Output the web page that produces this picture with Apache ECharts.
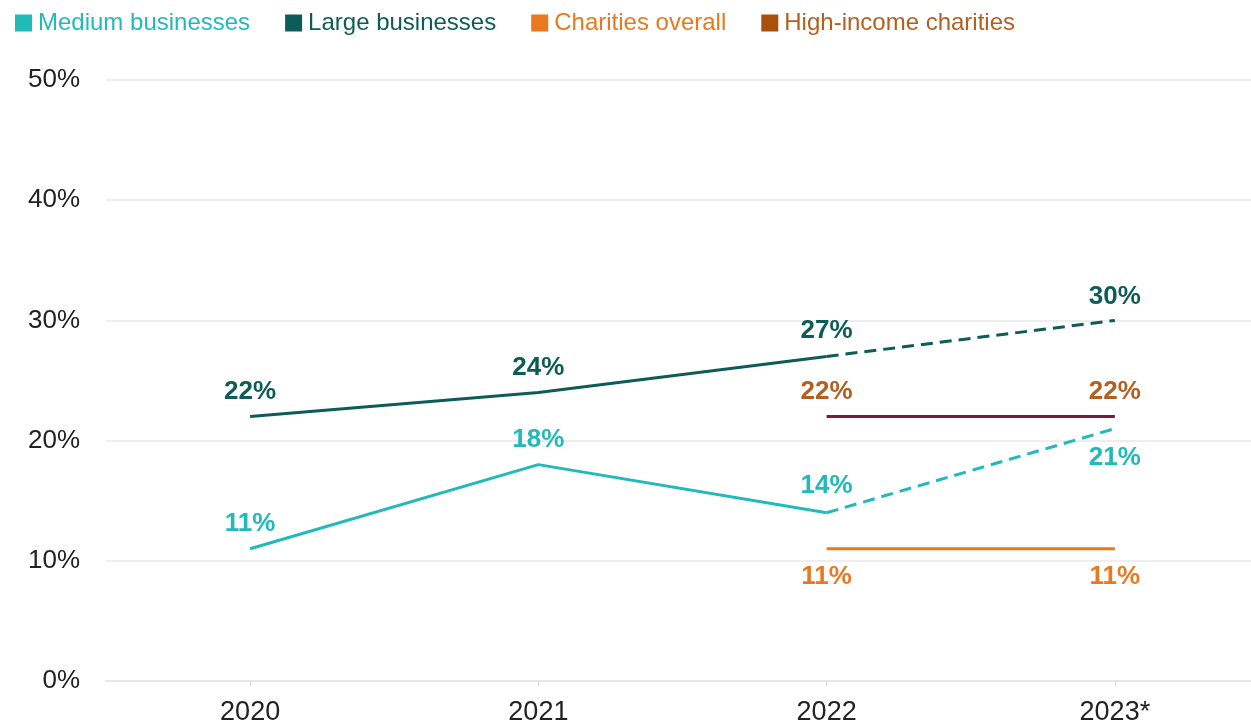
<!DOCTYPE html>
<html>
<head>
<meta charset="utf-8">
<script src="https://cdn.jsdelivr.net/npm/echarts@6/dist/echarts.min.js"></script>
<style>
  html, body { margin: 0; padding: 0; background: #fff; }
  #chart { width: 1251px; height: 727px; }
</style>
</head>
<body>
<div id="chart"></div>
<script>
// Survey years and shares (%)
const years = ['2020', '2021', '2022', '2023*'];
const mediumBusinesses = [11, 18, 14, 21];
const largeBusinesses = [22, 24, 27, 30];
const charitiesOverall = [null, null, 11, 11];
const highIncomeCharities = [null, null, 22, 22];
const yTicks = [0, 10, 20, 30, 40, 50];

// Index from which the line is drawn dashed (latest wave)
const dashFrom = 2;

const C = {
  medium: '#22BAB8',
  large: '#0E5C58',
  charity: '#E8791E',
  highLegend: '#A8500C',
  highLine: '#7A1C3C',
  highLabel: '#B55F1E',
  axisText: '#222222'
};

const FONT = '"Liberation Sans", Arial, sans-serif';
const CLEAR = 'rgba(0,0,0,0)';

function solidPart(arr) {
  return arr.map((v, i) => (i <= dashFrom ? v : null));
}
function dashedPart(arr) {
  return arr.map((v, i) => (i >= dashFrom ? v : null));
}

function lbl(color, position, distance) {
  return {
    show: true,
    position: position,
    distance: distance,
    color: color,
    fontFamily: FONT,
    fontWeight: 'bold',
    fontSize: 26,
    formatter: p => p.value + '%'
  };
}
const hidden = { show: false };

// Per-point label placement
const mediumPos = ['top', 'top', 'top', 'bottom'];
const mediumDist = [11, 11, 13, 15];
const largeDist = [11, 11, 12, 10];

// Tiny transparent point markers carry the value labels
const marker = { symbol: 'circle', symbolSize: 2, showSymbol: true };

function lineSeries(name, color, dashed, data) {
  return Object.assign({
    name: name,
    type: 'line',
    lineStyle: dashed ? { color: color, width: 3, type: [12, 7] } : { color: color, width: 3 },
    itemStyle: { color: CLEAR, borderWidth: 0 },
    emphasis: { disabled: true },
    data: data
  }, marker);
}

const chart = echarts.init(document.getElementById('chart'), null, { renderer: 'canvas' });

chart.setOption({
  animation: false,
  backgroundColor: '#fff',
  textStyle: { fontFamily: FONT },
  legend: {
    left: 10,
    top: 6,
    itemWidth: 17,
    itemHeight: 17,
    itemGap: 35,
    icon: 'rect',
    textStyle: { fontFamily: FONT, fontSize: 24, padding: [0, 0, 0, 1] },
    data: [
      { name: 'Medium businesses', itemStyle: { color: C.medium, opacity: 1 }, textStyle: { color: C.medium } },
      { name: 'Large businesses', itemStyle: { color: C.large, opacity: 1 }, textStyle: { color: C.large } },
      { name: 'Charities overall', itemStyle: { color: C.charity, opacity: 1 }, textStyle: { color: C.charity } },
      { name: 'High-income charities', itemStyle: { color: C.highLegend, opacity: 1 }, textStyle: { color: C.highLabel } }
    ]
  },
  grid: { left: 106, right: -8, top: 80, bottom: 46, containLabel: false, outerBoundsMode: 'none' },
  xAxis: {
    type: 'category',
    data: years,
    boundaryGap: true,
    axisLine: { lineStyle: { color: '#e6e6e6', width: 2 } },
    axisTick: { show: true, alignWithLabel: true, length: 5, lineStyle: { color: '#d9d9d9' } },
    axisLabel: { color: C.axisText, fontSize: 27, fontFamily: FONT, margin: 18 }
  },
  yAxis: {
    type: 'value',
    min: yTicks[0],
    max: yTicks[yTicks.length - 1],
    interval: yTicks[1] - yTicks[0],
    axisLine: { show: false },
    axisTick: { show: false },
    splitLine: { lineStyle: { color: '#e9e9e9', width: 1.5 } },
    axisLabel: { color: C.axisText, fontSize: 26, fontFamily: FONT, margin: 26, formatter: '{value}%' }
  },
  series: [
    lineSeries('Medium businesses', C.medium, false,
      solidPart(mediumBusinesses).map((v, i) => ({ value: v, label: lbl(C.medium, mediumPos[i], mediumDist[i]) }))),
    lineSeries('Medium businesses', C.medium, true,
      dashedPart(mediumBusinesses).map((v, i) => ({ value: v, label: i > dashFrom ? lbl(C.medium, mediumPos[i], mediumDist[i]) : hidden }))),
    lineSeries('Large businesses', C.large, false,
      solidPart(largeBusinesses).map((v, i) => ({ value: v, label: lbl(C.large, 'top', largeDist[i]) }))),
    lineSeries('Large businesses', C.large, true,
      dashedPart(largeBusinesses).map((v, i) => ({ value: v, label: i > dashFrom ? lbl(C.large, 'top', largeDist[i]) : hidden }))),
    lineSeries('Charities overall', C.charity, false,
      charitiesOverall.map(v => ({ value: v, label: lbl(C.charity, 'bottom', 14) }))),
    lineSeries('High-income charities', C.highLine, false,
      highIncomeCharities.map(v => ({ value: v, label: lbl(C.highLabel, 'top', 11) })))
  ]
});
</script>
</body>
</html>
